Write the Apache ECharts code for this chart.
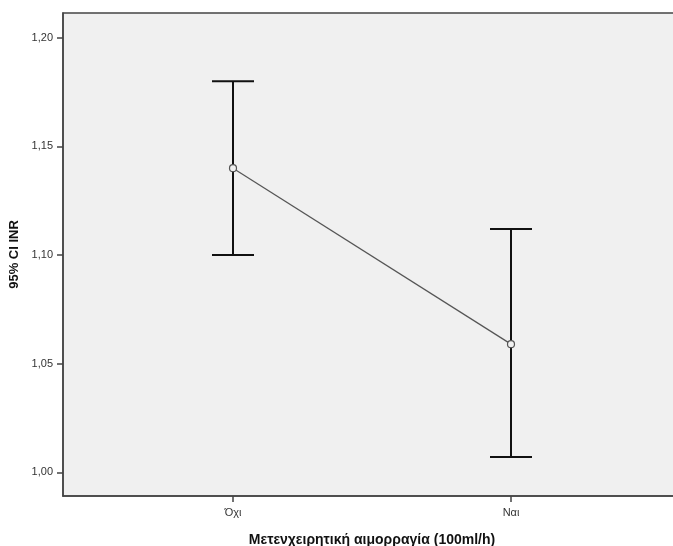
<!DOCTYPE html>
<html>
<head>
<meta charset="utf-8">
<script src="https://cdn.jsdelivr.net/npm/echarts@6/dist/echarts.min.js"></script>
<style>
  html, body { margin: 0; padding: 0; background: #fff; }
  #chart { width: 673px; height: 546px; }
</style>
</head>
<body>
<div id="chart"></div>
<script>
const categories = ["Όχι", "Ναι"];
const means = [1.14, 1.059];
const lower = [1.1, 1.007];
const upper = [1.18, 1.112];
const yTicks = [1.0, 1.05, 1.1, 1.15, 1.2];

const AXIS_COLOR = "#444";
const LABEL_STYLE = { color: "#333", fontSize: 11, fontFamily: "Liberation Sans, Arial, sans-serif" };

const myChart = echarts.init(document.getElementById("chart"), null, { renderer: "canvas" });

myChart.setOption({
  animation: false,
  backgroundColor: "#ffffff",
  grid: {
    left: 63,
    top: 13,
    right: -8,
    bottom: 50,
    containLabel: false,
    outerBoundsMode: "none",
    show: true,
    backgroundColor: "#f0f0f0",
    borderColor: AXIS_COLOR,
    borderWidth: 1.5
  },
  xAxis: {
    type: "value",
    min: -0.6115,
    max: 1.6115,
    name: "Μετενχειρητική αιμορραγία (100ml/h)",
    nameLocation: "middle",
    nameGap: 37,
    nameTextStyle: {
      color: "#111",
      fontSize: 14,
      fontWeight: "bold",
      fontFamily: "Liberation Sans, Arial, sans-serif"
    },
    splitLine: { show: false },
    axisLine: { onZero: false, lineStyle: { color: AXIS_COLOR, width: 1.5 } },
    axisTick: {
      customValues: categories.map((c, i) => i),
      length: 6,
      lineStyle: { color: AXIS_COLOR, width: 1.5 }
    },
    axisLabel: Object.assign({}, LABEL_STYLE, {
      customValues: categories.map((c, i) => i),
      margin: 11,
      formatter: v => categories[Math.round(v)] || ""
    })
  },
  yAxis: {
    type: "value",
    min: 0.9891,
    max: 1.2114,
    name: "95% CI INR",
    nameLocation: "middle",
    nameGap: 40,
    nameRotate: 90,
    nameTextStyle: {
      color: "#111",
      fontSize: 13,
      fontWeight: "bold",
      fontFamily: "Liberation Sans, Arial, sans-serif"
    },
    splitLine: { show: false },
    axisLine: { show: true, onZero: false, lineStyle: { color: AXIS_COLOR, width: 1.5 } },
    axisTick: {
      customValues: yTicks,
      length: 6,
      lineStyle: { color: AXIS_COLOR, width: 1.5 }
    },
    axisLabel: Object.assign({}, LABEL_STYLE, {
      customValues: yTicks,
      margin: 10,
      formatter: v => v.toFixed(2).replace(".", ",")
    })
  },
  series: [
    {
      name: "CI",
      type: "custom",
      data: categories.map((c, i) => [i, lower[i], upper[i]]),
      renderItem: function (params, api) {
        const x = api.value(0);
        const lo = api.coord([x, api.value(1)]);
        const hi = api.coord([x, api.value(2)]);
        const half = 21;
        const style = { stroke: "#111", lineWidth: 2 };
        return {
          type: "group",
          children: [
            { type: "line", shape: { x1: lo[0], y1: lo[1], x2: hi[0], y2: hi[1] }, style: style },
            { type: "line", shape: { x1: hi[0] - half, y1: hi[1], x2: hi[0] + half, y2: hi[1] }, style: style },
            { type: "line", shape: { x1: lo[0] - half, y1: lo[1], x2: lo[0] + half, y2: lo[1] }, style: style }
          ]
        };
      },
      z: 2
    },
    {
      name: "Mean",
      type: "line",
      data: categories.map((c, i) => [i, means[i]]),
      symbol: "circle",
      symbolSize: 7,
      itemStyle: { color: "#f0f0f0", borderColor: "#555", borderWidth: 1.2 },
      lineStyle: { color: "#555", width: 1.2 },
      z: 3
    }
  ]
});
</script>
</body>
</html>
